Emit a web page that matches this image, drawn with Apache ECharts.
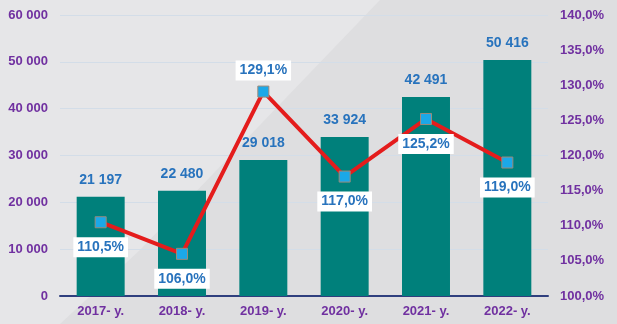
<!DOCTYPE html>
<html><head><meta charset="utf-8">
<script src="https://cdn.jsdelivr.net/npm/echarts@6/dist/echarts.min.js"></script>
<style>html,body{margin:0;padding:0;background:#e6e6e8}#c{width:617px;height:324px}</style>
</head><body><div id="c"></div>
<script>
const categories = ['2017- y.', '2018- y.', '2019- y.', '2020- y.', '2021- y.', '2022- y.'];
const volumes = [21197, 22480, 29018, 33924, 42491, 50416];
const growth = [110.5, 106.0, 129.1, 117.0, 125.2, 119.0];
const growthLabelPos = ['bottom', 'bottom', 'top', 'bottom', 'bottom', 'bottom'];

const fmtNum = v => String(v).replace(/\B(?=(\d{3})+(?!\d))/g, ' ');
const fmtPct = v => v.toFixed(1).replace('.', ',') + '%';
const FONT = '"Liberation Sans", Arial, sans-serif';

const chart = echarts.init(document.getElementById('c'));
chart.setOption({
  backgroundColor: '#e6e6e8',
  animation: false,
  graphic: [{
    type: 'polygon', z: -10, silent: true,
    shape: { points: [[380, 0], [617, 0], [617, 324], [60, 324], [140, 250]] },
    style: { fill: '#dedee0' }
  }],
  grid: { left: 60, right: 69, top: 15, bottom: 28 },
  xAxis: {
    type: 'category', data: categories,
    axisTick: { show: false },
    axisLine: { lineStyle: { color: '#2f3f7e', width: 2 } },
    axisLabel: { color: '#7030a0', fontWeight: 'bold', fontSize: 13, fontFamily: FONT, margin: 9 }
  },
  yAxis: [{
    type: 'value', min: 0, max: 60000, interval: 10000,
    axisLine: { show: false }, axisTick: { show: false },
    splitLine: { lineStyle: { color: '#d3dde8', width: 1 } },
    axisLabel: { color: '#7030a0', fontWeight: 'bold', fontSize: 13, fontFamily: FONT, margin: 12, formatter: v => fmtNum(v) }
  }, {
    type: 'value', min: 100, max: 140, interval: 5,
    axisLine: { show: false }, axisTick: { show: false }, splitLine: { show: false },
    axisLabel: { color: '#7030a0', fontWeight: 'bold', fontSize: 13, fontFamily: FONT, margin: 12, formatter: v => fmtPct(v) }
  }],
  series: [{
    type: 'bar', data: volumes, barWidth: '59%',
    itemStyle: { color: '#00807b' },
    label: { show: true, position: 'top', distance: 10, color: '#2873bd', fontWeight: 'bold', fontSize: 14, fontFamily: FONT, formatter: p => fmtNum(p.value) }
  }, {
    type: 'line', yAxisIndex: 1,
    data: growth.map((v, i) => ({ value: v, label: { position: growthLabelPos[i], distance: growthLabelPos[i] === 'top' ? 5 : 9 } })),
    lineStyle: { color: '#e41c1c', width: 4 },
    symbol: 'rect', symbolSize: 11,
    itemStyle: { color: '#1ba8e8', borderColor: '#9a8a7a', borderWidth: 1 },
    label: { show: true, color: '#2873bd', fontWeight: 'bold', fontSize: 14, fontFamily: FONT, backgroundColor: '#ffffff', padding: [3, 4, 3, 4], formatter: p => fmtPct(p.value) },
    z: 5
  }]
});
</script></body></html>
